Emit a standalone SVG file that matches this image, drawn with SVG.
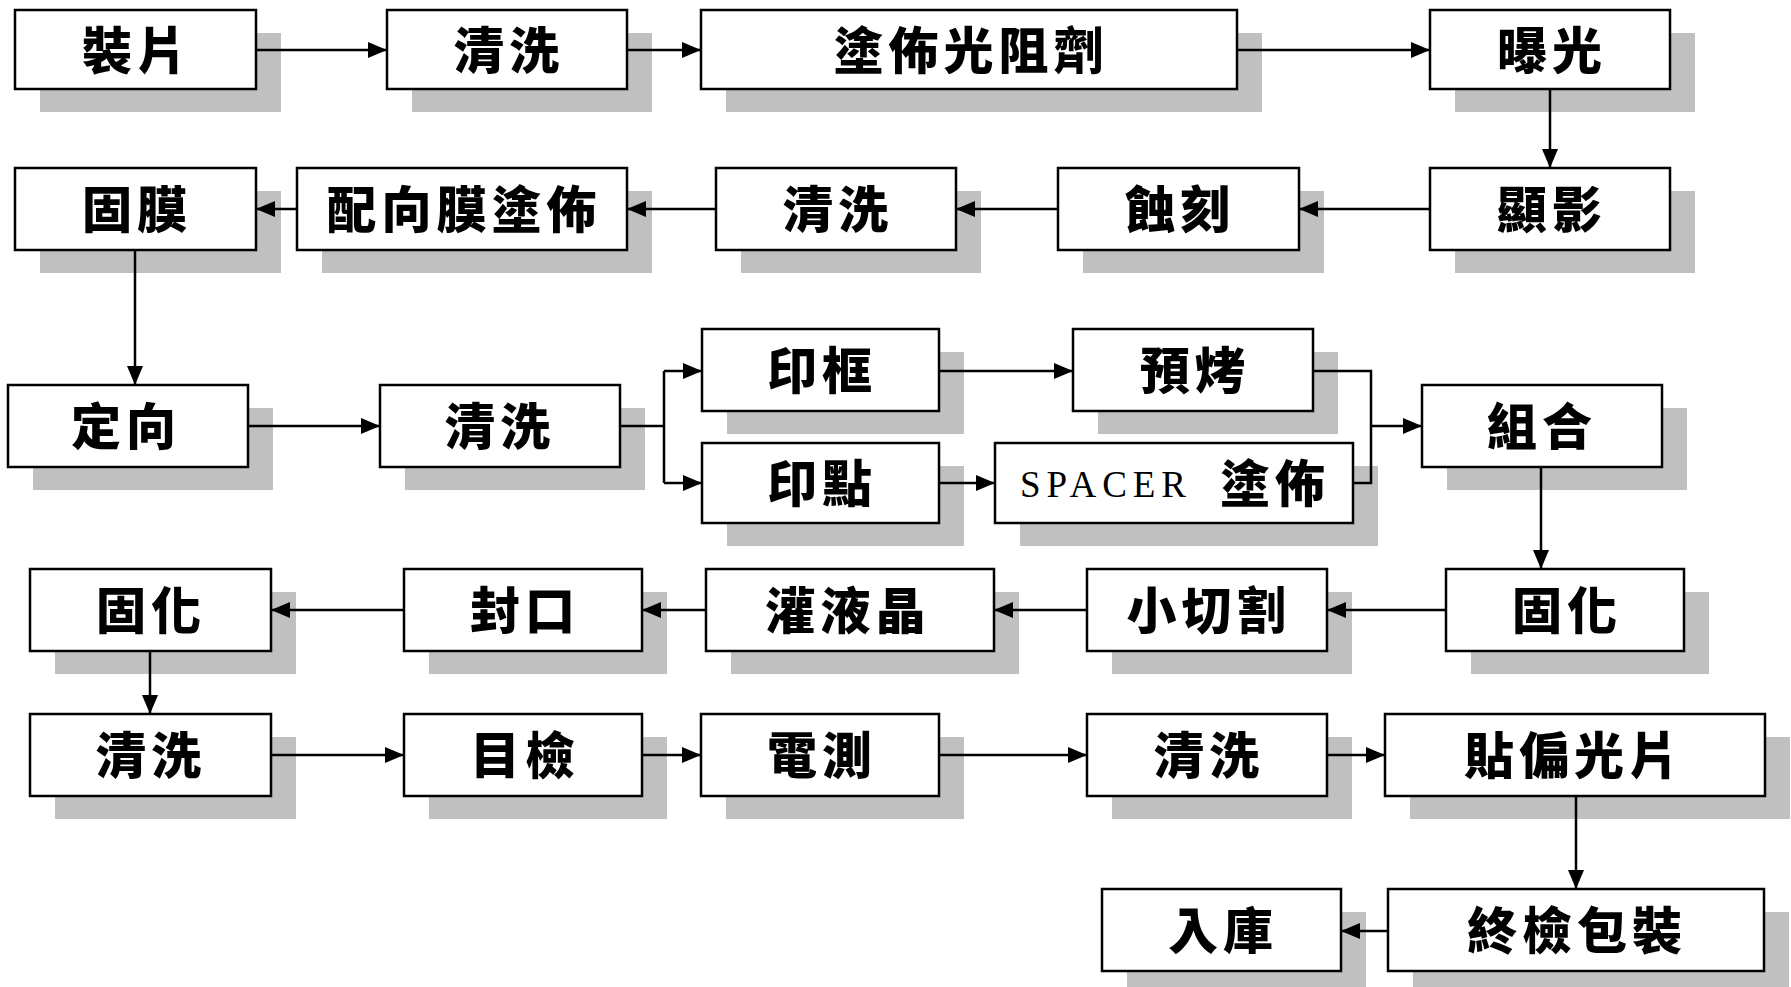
<svg xmlns="http://www.w3.org/2000/svg" width="1791" height="987" viewBox="0 0 1791 987">
<style>
.sh{fill:#c0c0c0;stroke:none}
.bx{fill:#fff;stroke:#000;stroke-width:2.5}
.t{font-family:"Noto Sans CJK TC","Noto Sans CJK SC",sans-serif;font-weight:900;font-size:50px;letter-spacing:5px;text-anchor:middle;dominant-baseline:central;fill:#000}
.s{font-family:"Liberation Serif",serif;font-size:37px;fill:#000}
.c{fill:none;stroke:#000;stroke-width:2.5;marker-end:url(#ah)}
.l{fill:none;stroke:#000;stroke-width:2.5}
</style>
<defs>
<marker id="ah" markerUnits="userSpaceOnUse" markerWidth="20" markerHeight="18" refX="19" refY="8" orient="auto">
<path d="M0,0 L19,8 L0,16 z" fill="#000"/>
</marker>
</defs>
<rect width="1791" height="987" fill="#fff"/>
<g id="n1"><rect class="sh" x="40" y="33" width="241" height="79"/><rect class="bx" x="15" y="10" width="241" height="79"/><text class="t" x="137" y="47">裝片</text></g>
<g id="n2"><rect class="sh" x="412" y="33" width="240" height="79"/><rect class="bx" x="387" y="10" width="240" height="79"/><text class="t" x="509" y="47">清洗</text></g>
<g id="n3"><rect class="sh" x="726" y="33" width="536" height="79"/><rect class="bx" x="701" y="10" width="536" height="79"/><text class="t" x="971" y="47">塗佈光阻劑</text></g>
<g id="n4"><rect class="sh" x="1455" y="33" width="240" height="79"/><rect class="bx" x="1430" y="10" width="240" height="79"/><text class="t" x="1552" y="47">曝光</text></g>
<g id="n5"><rect class="sh" x="1455" y="191" width="240" height="82"/><rect class="bx" x="1430" y="168" width="240" height="82"/><text class="t" x="1552" y="206">顯影</text></g>
<g id="n6"><rect class="sh" x="1083" y="191" width="241" height="82"/><rect class="bx" x="1058" y="168" width="241" height="82"/><text class="t" x="1180" y="206">蝕刻</text></g>
<g id="n7"><rect class="sh" x="741" y="191" width="240" height="82"/><rect class="bx" x="716" y="168" width="240" height="82"/><text class="t" x="838" y="206">清洗</text></g>
<g id="n8"><rect class="sh" x="322" y="191" width="330" height="82"/><rect class="bx" x="297" y="168" width="330" height="82"/><text class="t" x="464" y="206">配向膜塗佈</text></g>
<g id="n9"><rect class="sh" x="40" y="191" width="241" height="82"/><rect class="bx" x="15" y="168" width="241" height="82"/><text class="t" x="137" y="206">固膜</text></g>
<g id="n10"><rect class="sh" x="33" y="408" width="240" height="82"/><rect class="bx" x="8" y="385" width="240" height="82"/><text class="t" x="126" y="423">定向</text></g>
<g id="n11"><rect class="sh" x="405" y="408" width="240" height="82"/><rect class="bx" x="380" y="385" width="240" height="82"/><text class="t" x="500" y="423">清洗</text></g>
<g id="n12"><rect class="sh" x="727" y="352" width="237" height="82"/><rect class="bx" x="702" y="329" width="237" height="82"/><text class="t" x="822" y="367">印框</text></g>
<g id="n13"><rect class="sh" x="727" y="466" width="237" height="80"/><rect class="bx" x="702" y="443" width="237" height="80"/><text class="t" x="822" y="480">印點</text></g>
<g id="n14"><rect class="sh" x="1098" y="352" width="240" height="82"/><rect class="bx" x="1073" y="329" width="240" height="82"/><text class="t" x="1195" y="367">預烤</text></g>
<g id="n15"><rect class="sh" x="1020" y="466" width="358" height="80"/><rect class="bx" x="995" y="443" width="358" height="80"/><text class="s" x="1020" y="497" textLength="166" lengthAdjust="spacing">SPACER</text><text class="t" x="1275" y="480">塗佈</text></g>
<g id="n16"><rect class="sh" x="1447" y="408" width="240" height="82"/><rect class="bx" x="1422" y="385" width="240" height="82"/><text class="t" x="1542" y="423">組合</text></g>
<g id="n17"><rect class="sh" x="1471" y="592" width="238" height="82"/><rect class="bx" x="1446" y="569" width="238" height="82"/><text class="t" x="1567" y="607">固化</text></g>
<g id="n18"><rect class="sh" x="1112" y="592" width="240" height="82"/><rect class="bx" x="1087" y="569" width="240" height="82"/><text class="t" x="1209" y="607">小切割</text></g>
<g id="n19"><rect class="sh" x="731" y="592" width="288" height="82"/><rect class="bx" x="706" y="569" width="288" height="82"/><text class="t" x="848" y="607">灌液晶</text></g>
<g id="n20"><rect class="sh" x="429" y="592" width="238" height="82"/><rect class="bx" x="404" y="569" width="238" height="82"/><text class="t" x="525" y="607">封口</text></g>
<g id="n21"><rect class="sh" x="55" y="592" width="241" height="82"/><rect class="bx" x="30" y="569" width="241" height="82"/><text class="t" x="151" y="607">固化</text></g>
<g id="n22"><rect class="sh" x="55" y="737" width="241" height="82"/><rect class="bx" x="30" y="714" width="241" height="82"/><text class="t" x="151" y="752">清洗</text></g>
<g id="n23"><rect class="sh" x="429" y="737" width="238" height="82"/><rect class="bx" x="404" y="714" width="238" height="82"/><text class="t" x="525" y="752">目檢</text></g>
<g id="n24"><rect class="sh" x="726" y="737" width="238" height="82"/><rect class="bx" x="701" y="714" width="238" height="82"/><text class="t" x="822" y="752">電測</text></g>
<g id="n25"><rect class="sh" x="1112" y="737" width="240" height="82"/><rect class="bx" x="1087" y="714" width="240" height="82"/><text class="t" x="1209" y="752">清洗</text></g>
<g id="n26"><rect class="sh" x="1410" y="737" width="380" height="82"/><rect class="bx" x="1385" y="714" width="380" height="82"/><text class="t" x="1574" y="752">貼偏光片</text></g>
<g id="n27"><rect class="sh" x="1413" y="912" width="376" height="82"/><rect class="bx" x="1388" y="889" width="376" height="82"/><text class="t" x="1577" y="927">終檢包裝</text></g>
<g id="n28"><rect class="sh" x="1127" y="912" width="239" height="82"/><rect class="bx" x="1102" y="889" width="239" height="82"/><text class="t" x="1223" y="927">入庫</text></g>
<g id="connectors">
<path class="c" d="M256,50 H387"/>
<path class="c" d="M627,50 H701"/>
<path class="c" d="M1237,50 H1430"/>
<path class="c" d="M1550,89 V168"/>
<path class="c" d="M1430,209 H1299"/>
<path class="c" d="M1058,209 H956"/>
<path class="c" d="M716,209 H627"/>
<path class="c" d="M297,209 H256"/>
<path class="c" d="M135,250 V385"/>
<path class="c" d="M248,426 H380"/>
<path class="l" d="M620,426 H664 M664,371 V483"/>
<path class="c" d="M664,371 H702"/>
<path class="c" d="M664,483 H702"/>
<path class="c" d="M939,371 H1073"/>
<path class="c" d="M939,483 H995"/>
<path class="l" d="M1313,371 H1371 V483 H1353"/>
<path class="c" d="M1371,426 H1422"/>
<path class="c" d="M1541,467 V569"/>
<path class="c" d="M1446,610 H1327"/>
<path class="c" d="M1087,610 H994"/>
<path class="c" d="M706,610 H642"/>
<path class="c" d="M404,610 H271"/>
<path class="c" d="M150,651 V714"/>
<path class="c" d="M271,755 H404"/>
<path class="c" d="M642,755 H701"/>
<path class="c" d="M939,755 H1087"/>
<path class="c" d="M1327,755 H1385"/>
<path class="c" d="M1576,796 V889"/>
<path class="c" d="M1388,931 H1341"/>
</g>
</svg>
